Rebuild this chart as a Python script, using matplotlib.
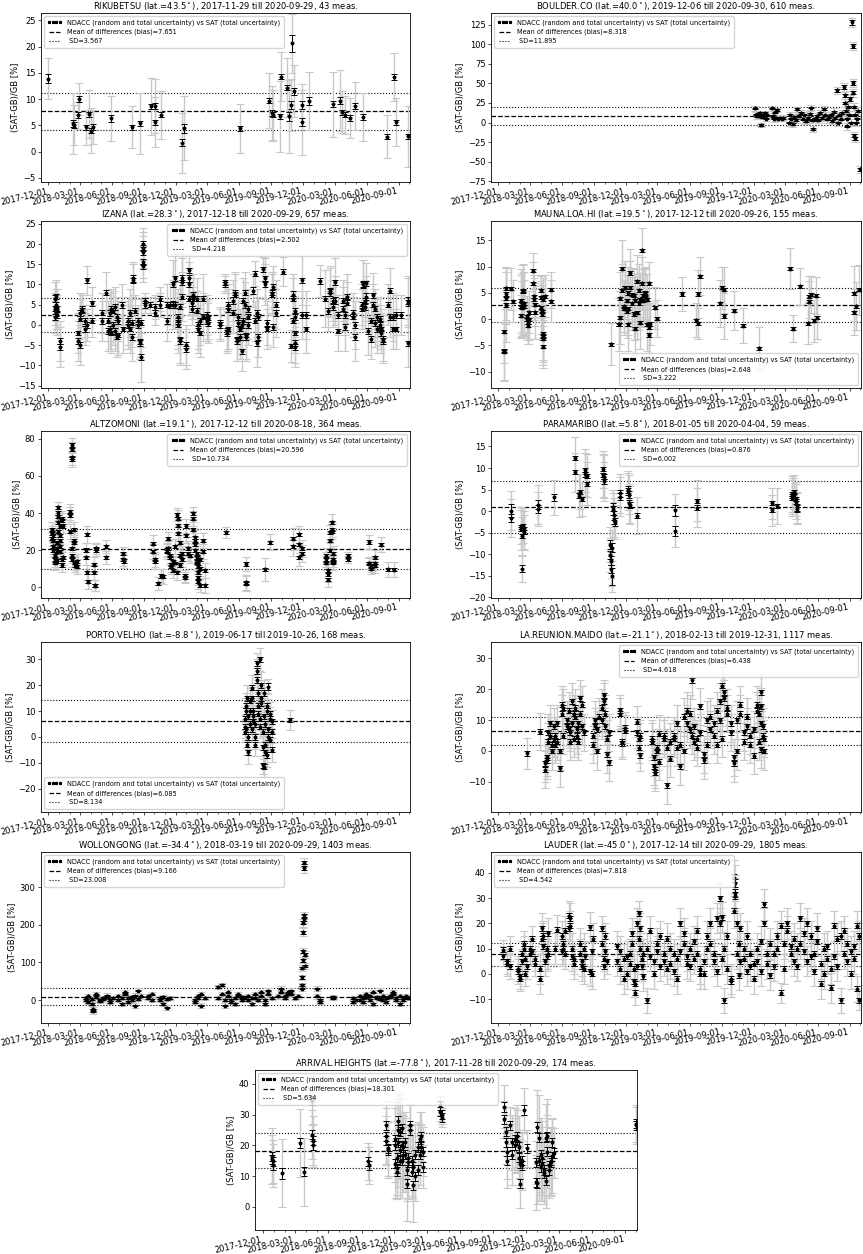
import numpy as np
import matplotlib
matplotlib.use('Agg')  # no display
import matplotlib.pyplot as plt
import matplotlib.dates as mdates
from matplotlib.ticker import MultipleLocator

# dates are stored as days after 2017-12-01
t0 = np.datetime64('2017-12-01')

# station info
stations = ['RIKUBETSU', 'BOULDER.CO', 'IZANA', 'MAUNA.LOA.HI', 'ALTZOMONI', 'PARAMARIBO',
            'PORTO.VELHO', 'LA.REUNION.MAIDO', 'WOLLONGONG', 'LAUDER', 'ARRIVAL.HEIGHTS']
lats = ['43.5', '40.0', '28.3', '19.5', '19.1', '5.8', '-8.8', '-21.1', '-34.4', '-45.0', '-77.8']
first_obs = ['2017-11-29', '2019-12-06', '2017-12-18', '2017-12-12', '2017-12-12', '2018-01-05',
             '2019-06-17', '2018-02-13', '2018-03-19', '2017-12-14', '2017-11-28']
last_obs = ['2020-09-29', '2020-09-30', '2020-09-29', '2020-09-26', '2020-08-18', '2020-04-04',
            '2019-10-26', '2019-12-31', '2020-09-29', '2020-09-29', '2020-09-29']
n_meas = [43, 610, 657, 155, 364, 59, 168, 1117, 1403, 1805, 174]
bias = [7.651, 8.318, 2.502, 2.648, 20.596, 0.876, 6.085, 6.438, 9.166, 7.818, 18.301]
sd = [3.567, 11.895, 4.218, 3.222, 10.734, 6.002, 8.134, 4.618, 23.008, 4.542, 5.634]

# ---------------- RIKUBETSU
riku_day = [-2, 70, 74, 84, 88, 108, 116, 121, 129, 180,
            239, 263, 293, 306, 307, 323, 383, 389, 549, 634,
            641, 643, 664, 666, 685, 689, 695, 698, 704, 726,
            728, 748, 815, 837, 843, 850, 866, 879, 901, 971,
            991, 997, 1031]
riku_val = [13.9, 5.3, 5.0, 6.9, 10.0, 4.6, 7.1, 4.0, 4.7, 6.3,
            4.6, 5.4, 8.6, 8.7, 5.6, 7.0, 1.7, 4.4, 4.4, 9.7,
            7.3, 7.0, 6.7, 14.3, 12.2, 6.7, 8.9, 20.6, 11.5, 5.6,
            8.9, 9.6, 9.0, 9.7, 7.5, 7.0, 6.4, 8.7, 6.6, 2.8,
            14.2, 5.6, 2.9]
riku_tot = [3.9, 5.8, 3.8, 2.6, 3.0, 3.4, 4.6, 4.3, 3.2, 4.2,
            4.0, 5.8, 5.5, 5.2, 4.8, 4.6, 5.7, 6.1, 4.6, 5.3,
            5.2, 4.8, 6.7, 4.6, 5.6, 6.9, 5.0, 5.6, 5.0, 6.2,
            4.0, 5.5, 6.2, 5.8, 4.0, 3.6, 3.8, 4.5, 4.5, 4.1,
            4.6, 4.6, 5.8]
riku_rnd = [0.8, 0.7, 0.6, 0.6, 0.5, 0.5, 0.5, 0.5, 0.5, 0.6,
            0.5, 0.5, 0.5, 0.6, 0.5, 0.5, 0.7, 0.8, 0.4, 0.5,
            0.6, 0.5, 0.5, 0.5, 0.5, 0.8, 0.7, 1.7, 0.7, 0.7,
            0.8, 0.7, 0.6, 0.6, 0.5, 0.5, 0.5, 0.5, 0.5, 0.5,
            0.5, 0.5, 0.5]

# ---------------- BOULDER.CO
bould_day = [735, 737, 740, 742, 745, 748, 750, 753, 756, 759,
             762, 765, 769, 783, 786, 789, 792, 795, 797, 800,
             805, 810, 815, 831, 834, 838, 842, 846, 850, 855,
             860, 865, 870, 875, 880, 885, 890, 893, 897, 901,
             905, 910, 915, 920, 925, 931, 935, 940, 945, 950,
             955, 960, 964, 967, 971, 975, 980, 984, 988, 990,
             992, 994, 996, 998, 1000, 1002, 1005, 1007, 1012, 1013,
             1014, 1015, 1017, 1018, 1019, 1020, 1022, 1025, 1028, 1034]
bould_val = [18, 10, 8, 11, 9, 12, -3, 7, 10, 8,
             12, 5, 9, 18, 8, 5, 13, 6, 16, 5,
             6, 5, 6, 0, 10, 5, -2, 7, 3, 17,
             8, 12, 4, 10, 2, 6, 11, 19, 3, -8,
             5, 8, 3, 12, 6, 17, 9, 4, 7, 10,
             2, 14, 6, 41, 0, 9, 4, 12, 45, 35,
             25, 15, 5, -5, 20, 10, 30, 0, 128, 98,
             51, 38, 20, -17, -20, 10, 0, 5, 15, -60]
bould_tot = [3, 3, 3, 3, 3, 3, 3, 3, 3, 3,
             3, 3, 3, 3, 4, 4, 4, 4, 3, 3,
             3, 3, 3, 4, 4, 4, 4, 4, 4, 3,
             4, 4, 4, 4, 4, 4, 4, 3, 4, 4,
             4, 4, 4, 4, 4, 4, 4, 4, 4, 4,
             4, 4, 4, 5, 4, 4, 4, 4, 6, 5,
             5, 5, 5, 5, 5, 5, 5, 5, 6, 5,
             5, 5, 5, 5, 5, 5, 5, 5, 5, 5]
bould_rnd = [1.0, 0.8, 1.0, 1.2, 0.8, 1.0, 1.0, 0.8, 1.0, 1.0,
             1.0, 0.8, 1.0, 1.2, 1.0, 0.8, 1.0, 1.0, 1.2, 0.8,
             1.0, 0.8, 1.0, 1.0, 1.2, 1.0, 0.8, 1.0, 1.0, 1.2,
             1.0, 1.0, 0.8, 1.0, 1.0, 1.2, 1.0, 1.0, 0.8, 1.5,
             1.0, 1.0, 0.8, 1.0, 1.0, 1.2, 1.0, 0.8, 1.0, 1.0,
             1.0, 1.2, 1.0, 2.5, 1.0, 1.0, 0.8, 1.0, 2.5, 2.0,
             1.5, 1.2, 1.0, 1.0, 1.5, 1.0, 2.0, 1.0, 3.0, 3.0,
             2.5, 2.0, 1.5, 2.0, 2.0, 1.0, 1.0, 1.0, 1.2, 2.0]

# ---------------- IZANA
izana_day = [19, 19, 19, 22, 22, 22, 26, 26, 33, 33,
             86, 86, 91, 91, 91, 96, 96, 105, 105, 112,
             112, 124, 124, 153, 153, 165, 172, 172, 177, 177,
             181, 181, 186, 186, 191, 191, 196, 196, 201, 201,
             210, 215, 229, 229, 234, 234, 239, 239, 244, 244,
             248, 258, 258, 263, 263, 267, 267, 272, 272, 272,
             272, 272, 277, 277, 291, 306, 306, 320, 320, 339,
             339, 349, 358, 358, 363, 363, 372, 372, 372, 377,
             377, 377, 382, 382, 382, 396, 396, 404, 404, 404,
             404, 411, 411, 415, 415, 425, 425, 430, 430, 435,
             435, 444, 444, 454, 454, 458, 458, 492, 492, 506,
             506, 511, 511, 516, 516, 516, 530, 530, 535, 535,
             540, 540, 544, 544, 549, 549, 554, 554, 559, 559,
             563, 563, 568, 568, 573, 573, 573, 587, 592, 592,
             597, 597, 602, 602, 616, 621, 621, 626, 626, 640,
             640, 645, 645, 654, 654, 673, 697, 702, 702, 702,
             707, 707, 707, 707, 707, 726, 726, 740, 740, 778,
             793, 802, 807, 807, 817, 817, 821, 821, 831, 831,
             845, 845, 850, 850, 855, 855, 874, 874, 879, 879,
             898, 898, 902, 902, 907, 907, 912, 912, 917, 926,
             926, 931, 931, 936, 936, 941, 941, 950, 950, 955,
             955, 960, 960, 974, 979, 979, 988, 988, 998, 998,
             1012, 1031, 1031, 1031]
izana_val = [2, 4, 6.5, 3, 5, 7, 2.5, 4, -4, -5.5,
             -2, -4, -5, 1.5, 3, 4, 3.5, -1, 1, 11,
             0, 1, 5.3, 1, 3, 8, -1.5, 1, 3, -1,
             -2, 4, 0, 3.5, -1.5, 4.5, -3, 2, 1, -2.5,
             5, -1, 0, 1, -1, 3, -3, 0.5, 11.5, 11,
             3.5, 0, 1, -4, -4.5, -8, 0.5, 20, 19, 18,
             15.5, 14.5, 6, 5, 5, 3, 4.5, 6.5, 5, 1,
             5, 5, 5, 10, 11.5, 5, 0, 1, 2, -3.5,
             -4, 4.5, 7, 11.5, 10.5, -5, -6, 13.5, 11.5, 10,
             6.5, 4, 5.5, 7.5, 6.5, 6.5, 3.5, 0, -1, -2,
             1, 2, 6.5, 1, 2.5, 0.5, 1.5, 0.5, 0, 10.5,
             10, -2, -1.5, -1, 4, 5, 3, 6, 8, 7.5,
             -4, -3.5, 0.5, 2, -1, -3, 0, -6.5, 1, 6,
             8, 5, -3, -2.5, 4, 0, 2, 8.5, 12.7, 1,
             3, -4.5, 2, -3, 13.8, 11.5, 10, -1, 0.5, 7.5,
             8, 9.5, -0.5, 5, 3, 13.2, -5.2, 7.5, 6.5, 1,
             2, -2, -4.5, -5.5, 3.5, 11, 2.5, -1, 2.5, 10.8,
             6.5, 3.5, 8, 8.5, 4.5, 6, 10.5, 6, 2.5, -1.5,
             6, 4, -0.5, 2.5, 5.5, 7, 3, 2, -3, 0,
             4, 5, 10, 10, 6, 4.5, 10.3, 7, -1.5, 1,
             -3.5, 5, 7.3, 0.5, 4, 2, -1, 1.5, 0, -2,
             -1, -3.5, -4, 5, 8.5, 2, -1, 2, 2.5, -1,
             2.5, -4.5, 5.5, 6]
izana_tot = [4, 4, 4, 4, 4, 4, 5, 5, 5, 5,
             5, 5, 5, 5, 5, 4, 4, 4, 4, 3.5,
             4, 4, 4, 5, 5, 5, 5, 5, 5, 5,
             5, 5, 5, 5, 5, 5, 5, 5, 5, 5,
             5, 6, 6, 6, 6, 6, 6, 6, 4, 4,
             4, 4, 4, 4, 4, 6, 6, 4, 4, 4,
             4, 4, 2, 2, 2, 3, 3, 3, 3, 5,
             5, 5, 6, 6, 6, 6, 7, 7, 7, 6,
             6, 6, 6, 6, 6, 5, 5, 4, 4, 4,
             4, 4, 4, 5, 5, 5, 5, 6, 6, 6,
             6, 6, 6, 5, 5, 5, 5, 4, 4, 2,
             2, 5, 5, 5, 5, 5, 5, 5, 5, 5,
             5, 5.5, 5, 6, 5, 5.5, 6, 5, 5, 5.5,
             5, 5.5, 6, 6, 5, 5, 5.5, 4, 3, 5,
             6, 6, 5, 5, 3, 5, 5, 5, 5.5, 5,
             5, 5, 5, 6, 6, 3.5, 4, 5, 5, 5.5,
             5, 5, 5, 5, 5, 6, 6, 6, 6, 4,
             7, 5, 6, 6, 5, 5, 6, 6, 5, 5,
             5, 5.5, 6, 5, 5, 5.5, 5, 5, 6, 6,
             5, 5, 6, 6, 5, 5.5, 5, 5, 6, 5,
             5, 5, 5.5, 6, 5, 5, 6, 5.5, 5, 5,
             5, 6, 5, 5, 5.5, 5, 5, 6, 5, 5,
             5, 6, 6, 6]
izana_rnd = [0.7, 0.6, 0.8, 0.7, 0.6, 0.7, 0.8, 0.6, 0.7, 0.7,
             0.6, 0.7, 0.8, 0.6, 0.7, 0.7, 0.6, 0.8, 0.7, 0.6,
             0.7, 0.6, 0.7, 0.8, 0.6, 0.7, 0.7, 0.6, 0.8, 0.7,
             0.6, 0.7, 0.8, 0.6, 0.7, 0.7, 0.6, 0.8, 0.7, 0.6,
             0.7, 0.6, 0.7, 0.8, 0.6, 0.7, 0.7, 0.6, 0.8, 0.7,
             0.6, 0.7, 0.8, 0.6, 0.7, 0.7, 0.6, 0.8, 0.7, 0.6,
             0.7, 0.6, 0.7, 0.8, 0.6, 0.7, 0.7, 0.6, 0.8, 0.7,
             0.6, 0.7, 0.8, 0.6, 0.7, 0.7, 0.6, 0.8, 0.7, 0.6,
             0.7, 0.6, 0.7, 0.8, 0.6, 0.7, 0.7, 0.6, 0.8, 0.7,
             0.6, 0.7, 0.8, 0.6, 0.7, 0.7, 0.6, 0.8, 0.7, 0.6,
             0.7, 0.6, 0.7, 0.8, 0.6, 0.7, 0.7, 0.6, 0.8, 0.7,
             0.6, 0.7, 0.8, 0.6, 0.7, 0.7, 0.6, 0.8, 0.7, 0.6,
             0.7, 0.6, 0.7, 0.8, 0.6, 0.7, 0.7, 0.6, 0.8, 0.7,
             0.6, 0.7, 0.8, 0.6, 0.7, 0.7, 0.6, 0.8, 0.7, 0.6,
             0.7, 0.6, 0.7, 0.8, 0.6, 0.7, 0.7, 0.6, 0.8, 0.7,
             0.6, 0.7, 0.8, 0.6, 0.7, 0.7, 0.6, 0.8, 0.7, 0.6,
             0.7, 0.6, 0.7, 0.8, 0.6, 0.7, 0.7, 0.6, 0.8, 0.7,
             0.6, 0.7, 0.8, 0.6, 0.7, 0.7, 0.6, 0.8, 0.7, 0.6,
             0.7, 0.6, 0.7, 0.8, 0.6, 0.7, 0.7, 0.6, 0.8, 0.7,
             0.6, 0.7, 0.8, 0.6, 0.7, 0.7, 0.6, 0.8, 0.7, 0.6,
             0.7, 0.6, 0.7, 0.8, 0.6, 0.7, 0.7, 0.6, 0.8, 0.7,
             0.6, 0.7, 0.8, 0.6, 0.7, 0.7, 0.6, 0.8, 0.7, 0.6,
             0.7, 0.6, 0.7, 0.8]

# ---------------- MAUNA.LOA.HI
mauna_day = [16, 16, 16, 22, 22, 22, 22, 37, 41, 64,
             64, 64, 67, 67, 70, 70, 74, 74, 81, 81,
             84, 84, 87, 87, 100, 100, 103, 103, 105, 105,
             122, 122, 122, 125, 125, 127, 127, 129, 129, 129,
             134, 151, 151, 321, 345, 345, 349, 349, 353, 353,
             358, 358, 363, 363, 368, 368, 372, 372, 372, 377,
             377, 382, 382, 387, 387, 392, 392, 396, 396, 401,
             401, 406, 406, 411, 411, 415, 415, 420, 420, 420,
             425, 425, 430, 430, 430, 435, 449, 454, 524, 566,
             571, 571, 576, 635, 640, 645, 645, 673, 700, 745,
             833, 843, 864, 885, 889, 889, 893, 902, 907, 912,
             1017, 1017, 1022, 1030]
mauna_val = [-2.4, -6, -6.2, 2.7, 4.8, 4, 5.9, 5.8, 3.4, 2.5,
             3.5, 0.7, 2.2, 2.8, 5.3, 5.5, 3, 2.5, 0, 0.5,
             -0.7, -1.2, 1.3, 0, 9.2, 6.8, 4.4, 3.8, 2.8, 1.3,
             5.5, 4.2, 2.2, 1.5, 1, -2.8, -3.2, -3.7, -5.2, 3.8,
             4.4, 5.6, 3.4, -4.8, -1, -1, 0.3, 4, 5.5, 9.6,
             2, 2.5, 6, 6, 3.5, 1.5, -1, 2, 5, 8.8,
             6, 4.7, 3, 1, 4.5, -1.8, 3.6, 1.2, 7.2, 5.5,
             3, 3.8, -0.7, 13.1, 6.8, 3.5, 4.5, 4.8, 5, 4.5,
             3.7, -1, -1.5, -3, 6.8, -0.9, 2.2, 0.1, 4.8, -0.2,
             -0.8, 4.8, 8.2, 3.0, 6, 5.6, 0.6, 1.6, -1.2, -5.5,
             9.6, -1.8, 6.3, -0.8, 3.3, 4.3, 4.7, -0.3, 4.5, 0.3,
             4.9, 1.3, 2.5, 5.6]
mauna_tot = [6, 5.5, 5.5, 7, 5, 5, 4, 4, 4, 6,
             6, 4, 5, 6, 5, 5, 6, 5, 4, 4,
             4, 3.5, 4, 4, 3.4, 4, 4, 4, 4, 5,
             3, 4, 5, 5, 5, 5, 5, 5, 4, 4,
             4, 3.4, 4, 4, 5, 5, 5, 5, 5, 5.4,
             5, 5, 5, 5, 5, 5, 5, 5, 5, 4.5,
             5, 5, 5, 5, 5, 5, 5, 5, 5, 5,
             5, 5, 5, 4.3, 5, 5, 5, 5, 5, 5,
             5, 5, 5, 5, 4, 4, 4, 3.5, 3.2, 3.2,
             3, 4.5, 3.6, 4.4, 4, 4.4, 4.4, 3.7, 3.3, 4,
             3.9, 2.6, 3.5, 4, 4, 4, 3.5, 4, 3.6, 4,
             5.3, 4.4, 4.5, 4.8]
mauna_rnd = [0.3, 0.3, 0.3, 0.3, 0.3, 0.3, 0.3, 0.3, 0.3, 0.3,
             0.3, 0.3, 0.3, 0.3, 0.3, 0.3, 0.3, 0.3, 0.3, 0.3,
             0.3, 0.3, 0.3, 0.3, 0.3, 0.3, 0.3, 0.3, 0.3, 0.3,
             0.3, 0.3, 0.3, 0.3, 0.3, 0.3, 0.3, 0.3, 0.3, 0.3,
             0.3, 0.3, 0.3, 0.3, 0.3, 0.3, 0.3, 0.3, 0.3, 0.3,
             0.3, 0.3, 0.3, 0.3, 0.3, 0.3, 0.3, 0.3, 0.3, 0.3,
             0.3, 0.3, 0.3, 0.3, 0.3, 0.3, 0.3, 0.3, 0.3, 0.3,
             0.3, 0.3, 0.3, 0.3, 0.3, 0.3, 0.3, 0.3, 0.3, 0.3,
             0.3, 0.3, 0.3, 0.3, 0.3, 0.3, 0.3, 0.3, 0.3, 0.3,
             0.3, 0.3, 0.3, 0.3, 0.3, 0.3, 0.3, 0.3, 0.3, 0.3,
             0.3, 0.3, 0.3, 0.3, 0.3, 0.3, 0.3, 0.3, 0.3, 0.3,
             0.3, 0.3, 0.3, 0.3]

# ---------------- ALTZOMONI
altz_day = [10, 10, 10, 14, 14, 14, 14, 19, 19, 19,
            24, 24, 24, 24, 29, 29, 29, 29, 29, 33,
            33, 33, 33, 33, 38, 38, 38, 38, 43, 43,
            62, 62, 62, 67, 67, 67, 67, 67, 67, 67,
            74, 74, 74, 77, 77, 81, 81, 108, 108, 112,
            112, 115, 131, 131, 135, 135, 138, 138, 165, 165,
            213, 213, 217, 301, 301, 306, 306, 315, 322, 328,
            339, 339, 344, 344, 349, 349, 353, 353, 358, 358,
            363, 363, 368, 368, 372, 372, 372, 377, 377, 377,
            382, 382, 392, 392, 396, 396, 401, 401, 406, 415,
            415, 415, 420, 420, 420, 420, 425, 425, 425, 425,
            430, 430, 430, 430, 435, 435, 435, 444, 444, 449,
            449, 508, 566, 566, 566, 621, 635, 702, 702, 719,
            719, 719, 726, 726, 797, 797, 797, 802, 802, 802,
            807, 807, 807, 812, 812, 812, 817, 817, 817, 817,
            860, 860, 920, 920, 920, 925, 925, 936, 936, 936,
            955, 974, 991]
altz_val = [26, 31, 29, 25, 22, 20, 28, 17, 15, 13,
            14, 19, 21, 24, 40, 43, 38, 35, 30, 33,
            28, 25, 22, 19, 15, 12, 36, 37, 33, 16,
            40.5, 39, 30, 21, 17, 15, 76.5, 74.5, 70, 69,
            31, 24, 25, 13, 12, 14, 11, 20, 16, 28.5,
            8, 3, 12, 8, 1, 0.8, 20, 21, 22, 16,
            18, 15, 14, 23.5, 19, 15, 14, 2, 6, 5.5,
            19, 20, 26, 21, 16, 17, 12, 11, 9, 14,
            22, 13, 8, 39, 37, 33, 29, 24, 17, 12,
            15, 18, 5, 6, 28, 33, 18, 21, 17, 40,
            37, 31, 27, 25, 23, 20, 18, 16, 14, 13,
            11, 8, 5, 3, 1, 10, 15, 25, 19, 9,
            1, 29.5, 12.5, 2.5, 1.8, 9.5, 24.3, 26, 22, 28.5,
            16, 23, 21, 18, 17, 15, 13, 9, 7, 4,
            29.5, 25, 20, 35, 30, 31, 18, 14, 13, 15,
            17, 15, 24.3, 13, 12.5, 11, 10, 13, 16, 11.5,
            22.8, 9.5, 9.3]
altz_tot = [4, 4, 4, 4, 4, 4, 4, 4, 4, 4,
            4, 4, 4, 4, 4, 3, 4, 4, 4, 4,
            4, 4, 4, 4, 4, 4, 4, 4, 4, 4,
            4.5, 4, 4, 4, 4, 4, 4, 4, 4, 4,
            4, 4, 4, 4, 4, 4, 4, 4, 4, 4.5,
            4, 4, 4, 4, 3, 3, 3, 3, 3.5, 3.5,
            3.5, 3.5, 3.5, 4.5, 4, 4, 4, 3.5, 4, 4,
            4, 4, 4, 4, 4, 4, 4, 4, 4, 4,
            4, 4, 4, 3.5, 4.5, 4, 4, 4, 4, 4,
            4, 4, 3, 3, 4, 4, 4, 4, 4, 3.5,
            4, 4, 4, 4, 4, 4, 4, 4, 4, 4,
            4, 4, 4, 4, 3.5, 4, 4, 4, 4, 4,
            4, 3, 4, 4, 4, 6, 4.5, 6, 5, 4.5,
            4.5, 4.5, 4.5, 4.5, 4, 4, 4, 4, 4, 4,
            4, 4, 4, 4.5, 4, 4, 4, 4, 4, 4,
            2, 2, 3.8, 3, 3, 3, 3, 4, 4, 4,
            4, 4, 4]
altz_rnd = [0.8, 0.9, 0.8, 0.8, 0.9, 0.8, 0.8, 0.9, 0.8, 0.8,
            0.9, 0.8, 0.8, 0.9, 1.0, 1.0, 0.9, 0.8, 0.8, 0.9,
            0.8, 0.8, 0.9, 0.8, 0.8, 0.9, 0.8, 0.8, 0.9, 0.8,
            1.0, 0.9, 0.8, 0.8, 0.9, 0.8, 1.2, 1.2, 1.0, 1.0,
            0.8, 0.9, 0.8, 0.8, 0.9, 0.8, 0.8, 0.9, 0.8, 0.8,
            0.9, 0.8, 0.8, 0.9, 0.8, 0.8, 0.9, 0.8, 0.8, 0.9,
            0.8, 0.8, 0.9, 0.8, 0.8, 0.9, 0.8, 0.8, 0.9, 0.8,
            0.8, 0.9, 0.8, 0.8, 0.9, 0.8, 0.8, 0.9, 0.8, 0.8,
            0.9, 0.8, 0.8, 0.9, 0.8, 0.8, 0.9, 0.8, 0.8, 0.9,
            0.8, 0.8, 0.9, 0.8, 0.8, 0.9, 0.8, 0.8, 0.9, 0.8,
            0.8, 0.9, 0.8, 0.8, 0.9, 0.8, 0.8, 0.9, 0.8, 0.8,
            0.9, 0.8, 0.8, 0.9, 0.8, 0.8, 0.9, 0.8, 0.8, 0.9,
            0.8, 0.8, 0.9, 0.8, 0.8, 0.9, 0.8, 0.8, 0.9, 0.8,
            0.8, 0.9, 0.8, 0.8, 0.9, 0.8, 0.8, 0.9, 0.8, 0.8,
            0.9, 0.8, 0.8, 0.9, 0.8, 0.8, 0.9, 0.8, 0.8, 0.9,
            0.8, 0.8, 0.9, 0.8, 0.8, 0.9, 0.8, 0.8, 0.9, 0.8,
            0.8, 0.9, 0.8]

# ---------------- PARAMARIBO
param_day = [35, 35, 64, 64, 67, 67, 70, 74, 74, 112,
             112, 160, 220, 220, 230, 234, 239, 249, 249, 253,
             253, 298, 298, 301, 301, 320, 320, 323, 323, 326,
             326, 329, 329, 331, 331, 334, 347, 347, 370, 370,
             374, 374, 377, 396, 506, 506, 568, 568, 783, 783,
             797, 840, 840, 840, 845, 845, 850, 850, 855, 855]
param_val = [0.1, -1.6, -3.7, -4.1, -5.8, -13.4, -3.4, -4.5, -4.8, 1.5,
             0.5, 3.2, 12.3, 9.0, 3.6, 4.5, 2.8, 9.5, 8.5, 8.2,
             6.3, 9.7, 8.3, 8.0, 6.9, -7.8, -10.2, -11.5, -13.5, -15.2,
             -8.5, 0.2, 0.9, -1.0, -2.0, -2.5, 4.1, 3.3, 5.0, 4.6,
             3.8, 1.8, 1.4, -1.1, 0.2, -4.7, 2.4, 0.8, 1.8, 0.2,
             1.2, 4.0, 3.5, 3.0, 4.4, 3.7, 2.8, 2.2, 0.9, 0.5]
param_tot = [4.5, 4.5, 4, 5, 4.5, 3, 4, 4.5, 4, 4.5,
             4, 4, 5, 4.5, 5, 4, 4, 5, 5, 5,
             5, 4.3, 5, 5, 4.5, 4, 4, 4, 4, 3.5,
             4, 4, 4, 4, 4, 4, 4.5, 4.5, 4.3, 4.3,
             4.5, 4.5, 4.5, 4.3, 3.7, 3.6, 4.7, 4.6, 3.6, 3.6,
             4.2, 4.2, 4.2, 4.2, 4, 4, 4, 4, 3.6, 3.6]
param_rnd = [1.5, 1, 0.5, 0.5, 0.5, 0.8, 0.5, 0.8, 0.5, 1,
             1, 0.8, 0.5, 0.5, 0.5, 0.5, 0.5, 0.5, 0.5, 0.5,
             0.5, 0.5, 0.5, 0.5, 0.5, 1, 1, 1, 1, 2,
             1, 1, 1, 1, 1, 1, 0.8, 0.8, 0.8, 0.8,
             0.8, 0.8, 0.8, 0.6, 1.3, 1.2, 0.5, 0.5, 0.5, 0.5,
             0.5, 0.5, 0.5, 0.5, 0.5, 0.5, 0.5, 0.5, 0.8, 0.8]

# ---------------- PORTO.VELHO
porto_day = [563, 563, 563, 566, 566, 566, 570, 570, 573, 573,
             573, 578, 578, 578, 583, 583, 583, 587, 587, 587,
             592, 592, 592, 597, 597, 597, 602, 602, 602, 606,
             606, 606, 611, 611, 611, 616, 616, 616, 618, 618,
             618, 621, 621, 621, 626, 626, 626, 630, 630, 630,
             635, 635, 635, 640, 640, 640, 694]
porto_val = [4, 2, 7, 10, 12, 3, 15, -3, -6, 0,
             8, 5, 10, 14, 19, 15, 3, 8, 6, 10,
             5, 0, -3, 28.5, 25.5, 22, 17, 12, 9, 7,
             4, 30, 20, 15, 13, 2, -4, -11, -11.5, 17,
             8, 5, -3, -6, -7, 12, 10, 0, 3, 19.5,
             9, 7, -1, -5, 6, 2, 6.6]
porto_tot = [4.5, 4, 4.5, 5, 5, 4, 5, 4, 4.5, 4.5,
             4.5, 4, 4.5, 5, 5, 4.5, 4, 4.5, 4.5, 5,
             4, 4.5, 4.5, 4, 4.5, 4.5, 5, 4.5, 4.5, 4.5,
             4.5, 4.5, 5, 4.5, 4.5, 4, 4.5, 3.5, 4, 5,
             4.5, 4.5, 4.5, 4.5, 4.5, 5, 4.5, 4.5, 4.5, 3,
             4.5, 4.5, 4.5, 4.5, 4.5, 4.5, 4]
porto_rnd = [1, 1, 1, 1, 1, 1, 1, 1, 1, 1,
             1, 1, 1, 1, 1, 1, 1, 1, 1, 1,
             1, 1, 1, 1, 1, 1, 1, 1, 1, 1,
             1, 1, 1, 1, 1, 1, 1, 1, 1, 1,
             1, 1, 1, 1, 1, 1, 1, 1, 1, 1.2,
             1, 1, 1, 1, 1, 1, 0.8]

# ---------------- LA.REUNION.MAIDO
reun_day = [81, 119, 134, 134, 138, 138, 143, 143, 148, 148,
            153, 153, 158, 158, 162, 162, 167, 167, 177, 177,
            181, 181, 186, 186, 196, 196, 201, 201, 205, 205,
            210, 210, 215, 215, 220, 220, 224, 224, 229, 229,
            234, 234, 239, 239, 244, 272, 272, 277, 277, 282,
            282, 287, 296, 296, 301, 301, 306, 306, 310, 310,
            315, 315, 347, 347, 353, 353, 362, 362, 396, 396,
            401, 401, 406, 406, 439, 439, 444, 444, 449, 449,
            454, 454, 458, 458, 473, 473, 482, 482, 492, 492,
            501, 501, 511, 511, 520, 520, 530, 530, 540, 540,
            549, 549, 554, 554, 559, 559, 568, 568, 578, 578,
            587, 587, 597, 597, 606, 606, 616, 616, 626, 626,
            635, 635, 640, 640, 645, 645, 654, 654, 664, 664,
            673, 673, 683, 683, 692, 692, 702, 702, 711, 711,
            721, 721, 731, 731, 740, 740, 745, 745, 750, 750,
            752, 752, 757, 757, 759, 759]
reun_val = [-0.7, 6.2, -4, -6, -3, -2, 3, 6, 9, 5,
            2, 0, 8, 4, 2, 5, 3, 9, -5.5, 0,
            15, 12, 14, 5, 8, 10, 13, 7, 3, 6,
            9, 16, 12, 4, 11, 14, 7, 5, 3, 9,
            12, 17, 15, 8, 6, 5, 2, 8, 10, 7,
            0, 11, 10, 14, 18, 16, 12, 8, 4, -1,
            -3.7, 6, 13.2, 12, 3, 2.5, 7.5, 6.5, 9.5, 6,
            4, 1, -1.4, 5, 4, 3, -2, -5, -6, -7,
            0, 1, 5.5, -3.5, 4, 5, 1, -11, -2.5, 3,
            5, 4, 1, 9, 2, -5, 0, 11, 13, 9,
            12, 7, 22.8, 5, 3, 8, 4, 1, 6, 14.5,
            -1, -3, 10, 2, 11, 7, 9, 5, 2, 13,
            16, 10, 4, 21, 19, 17, 14, 12, 9, 6,
            -4, -2, 0, 10, 12, 15, 6, 3, 8, 11,
            5, 2, -1.5, 7, 13, 15, 3, 12, 19, 9,
            0.5, 14.5, 5, 8, 4, 0]
reun_tot = [5, 6, 6, 6, 6, 6, 6, 6, 6, 6,
            6, 6, 6, 6, 6, 6, 6, 6, 6, 6,
            6, 6, 6, 6, 6, 6, 6, 6, 6, 6,
            6, 6, 6, 6, 6, 6, 6, 6, 6, 6,
            6, 6, 6, 6, 6, 6, 6, 6, 6, 6,
            6, 6, 6, 6, 5, 6, 6, 6, 6, 6,
            6, 6, 5, 5, 5, 5, 5, 5, 5, 5,
            5, 5, 5, 5, 6, 6, 6, 6, 6, 6,
            6, 6, 6, 6, 6, 6, 6, 6, 6, 6,
            6, 6, 6, 6, 6, 6, 6, 6, 6, 6,
            6, 6, 6, 6, 6, 6, 6, 6, 6, 6,
            6, 6, 6, 6, 6, 6, 6, 6, 6, 6,
            6, 6, 6, 6, 6, 6, 6, 6, 6, 6,
            6, 6, 6, 6, 6, 6, 6, 6, 6, 6,
            6, 6, 6, 6, 6, 6, 6, 6, 6, 6,
            6, 6, 6, 6, 6, 6]
reun_rnd = [0.8, 0.8, 0.8, 0.8, 0.8, 0.8, 0.8, 0.8, 0.8, 0.8,
            0.8, 0.8, 0.8, 0.8, 0.8, 0.8, 0.8, 0.8, 0.8, 0.8,
            0.8, 0.8, 0.8, 0.8, 0.8, 0.8, 0.8, 0.8, 0.8, 0.8,
            0.8, 0.8, 0.8, 0.8, 0.8, 0.8, 0.8, 0.8, 0.8, 0.8,
            0.8, 0.8, 0.8, 0.8, 0.8, 0.8, 0.8, 0.8, 0.8, 0.8,
            0.8, 0.8, 0.8, 0.8, 0.8, 0.8, 0.8, 0.8, 0.8, 0.8,
            0.8, 0.8, 0.8, 0.8, 0.8, 0.8, 0.8, 0.8, 0.8, 0.8,
            0.8, 0.8, 0.8, 0.8, 0.8, 0.8, 0.8, 0.8, 0.8, 0.8,
            0.8, 0.8, 0.8, 0.8, 0.8, 0.8, 0.8, 0.8, 0.8, 0.8,
            0.8, 0.8, 0.8, 0.8, 0.8, 0.8, 0.8, 0.8, 0.8, 0.8,
            0.8, 0.8, 0.8, 0.8, 0.8, 0.8, 0.8, 0.8, 0.8, 0.8,
            0.8, 0.8, 0.8, 0.8, 0.8, 0.8, 0.8, 0.8, 0.8, 0.8,
            0.8, 0.8, 0.8, 0.8, 0.8, 0.8, 0.8, 0.8, 0.8, 0.8,
            0.8, 0.8, 0.8, 0.8, 0.8, 0.8, 0.8, 0.8, 0.8, 0.8,
            0.8, 0.8, 0.8, 0.8, 0.8, 0.8, 0.8, 0.8, 0.8, 0.8,
            0.8, 0.8, 0.8, 0.8, 0.8, 0.8]

# ---------------- WOLLONGONG
wollo_day = [108, 108, 115, 115, 125, 125, 129, 129, 138, 138,
             148, 148, 158, 158, 167, 167, 177, 177, 186, 201,
             201, 210, 210, 220, 220, 229, 229, 239, 239, 248,
             248, 258, 258, 267, 287, 287, 296, 296, 320, 320,
             329, 329, 339, 339, 349, 420, 420, 430, 430, 439,
             439, 449, 487, 487, 497, 497, 506, 506, 516, 516,
             525, 525, 535, 535, 544, 544, 554, 554, 563, 573,
             573, 583, 583, 592, 592, 602, 611, 611, 621, 621,
             630, 630, 640, 659, 668, 668, 678, 678, 688, 688,
             697, 697, 707, 716, 726, 726, 726, 726, 731, 731,
             731, 731, 733, 733, 733, 733, 735, 735, 769, 769,
             778, 778, 817, 817, 874, 874, 883, 893, 893, 902,
             902, 912, 912, 922, 922, 931, 931, 941, 941, 950,
             950, 960, 960, 969, 969, 979, 979, 988, 988, 998,
             998, 1008, 1008, 1017, 1017, 1026, 1026, 1031]
wollo_val = [0, 5, -5, 10, -10, 3, -30, -25, 15, 8,
             0, -3, 5, 2, 8, 12, -5, 0, 5, 0,
             10, 5, -10, 15, 20, 5, -5, 0, 8, 12,
             -15, 25, 3, 10, 10, 5, 15, 0, 5, 0,
             -10, 8, 3, -20, 5, 0, -5, 10, 5, -15,
             15, 5, 5, 35, 40, 15, 0, -15, 10, 20,
             -5, 0, 5, -10, 10, 15, 8, 0, 5, 0,
             10, 5, -10, 15, 5, 0, 10, 20, 0, -10,
             25, 15, 5, 10, 20, 30, 5, 10, 20, 15,
             25, 15, 5, 10, 30, 40, 60, 85, 105, 130,
             180, 205, 215, 225, 350, 365, 120, 90, 30, 10,
             0, -5, 8, 5, 5, -5, 0, 0, 10, 5,
             -5, 15, 8, 0, 10, 20, -10, 5, 8, 3,
             25, 0, 10, 5, -5, 10, 8, 15, 20, 0,
             5, 10, -10, 5, 0, 8, 10, 5]
wollo_tot = [6, 6, 6, 6, 6, 6, 6, 6, 6, 6,
             6, 6, 6, 6, 6, 6, 6, 6, 6, 6,
             6, 6, 6, 6, 6, 6, 6, 6, 6, 6,
             6, 6, 6, 6, 6, 6, 6, 6, 6, 6,
             6, 6, 6, 6, 6, 6, 6, 6, 6, 6,
             6, 6, 6, 6, 6, 6, 6, 6, 6, 6,
             6, 6, 6, 6, 6, 6, 6, 6, 6, 6,
             6, 6, 6, 6, 6, 6, 6, 6, 6, 6,
             6, 6, 6, 6, 6, 6, 6, 6, 6, 6,
             6, 6, 6, 6, 6, 6, 7, 8, 8, 9,
             10, 10, 10, 10, 12, 12, 9, 8, 6, 6,
             6, 6, 6, 6, 6, 6, 6, 6, 6, 6,
             6, 6, 6, 6, 6, 6, 6, 6, 6, 6,
             6, 6, 6, 6, 6, 6, 6, 6, 6, 6,
             6, 6, 6, 6, 6, 6, 6, 6]
wollo_rnd = [2, 2, 2, 2, 2, 2, 2, 2, 2, 2,
             2, 2, 2, 2, 2, 2, 2, 2, 2, 2,
             2, 2, 2, 2, 2, 2, 2, 2, 2, 2,
             2, 2, 2, 2, 2, 2, 2, 2, 2, 2,
             2, 2, 2, 2, 2, 2, 2, 2, 2, 2,
             2, 2, 2, 2, 2, 2, 2, 2, 2, 2,
             2, 2, 2, 2, 2, 2, 2, 2, 2, 2,
             2, 2, 2, 2, 2, 2, 2, 2, 2, 2,
             2, 2, 2, 2, 2, 2, 2, 2, 2, 2,
             2, 2, 2, 2, 2, 2, 3, 3, 3, 4,
             4, 4, 4, 4, 5, 5, 4, 3, 2, 2,
             2, 2, 2, 2, 2, 2, 2, 2, 2, 2,
             2, 2, 2, 2, 2, 2, 2, 2, 2, 2,
             2, 2, 2, 2, 2, 2, 2, 2, 2, 2,
             2, 2, 2, 2, 2, 2, 2, 2]

# ---------------- LAUDER
laud_day = [14, 14, 24, 24, 33, 33, 57, 57, 62, 62,
            67, 67, 72, 72, 76, 76, 81, 91, 91, 96,
            96, 105, 105, 119, 119, 124, 124, 129, 129, 134,
            138, 138, 143, 143, 162, 167, 181, 181, 186, 186,
            191, 191, 201, 201, 205, 205, 210, 210, 215, 215,
            234, 234, 239, 239, 244, 244, 248, 263, 263, 267,
            267, 272, 296, 296, 301, 301, 306, 306, 310, 339,
            339, 349, 349, 358, 358, 368, 368, 377, 377, 382,
            382, 387, 387, 392, 392, 396, 396, 401, 401, 406,
            406, 411, 411, 415, 415, 425, 425, 435, 435, 444,
            444, 454, 454, 463, 463, 473, 473, 482, 482, 492,
            492, 501, 501, 511, 511, 520, 520, 530, 530, 540,
            540, 549, 549, 559, 559, 568, 568, 578, 578, 587,
            587, 597, 597, 606, 606, 616, 616, 626, 626, 635,
            635, 640, 640, 645, 645, 654, 654, 664, 664, 673,
            673, 676, 676, 676, 683, 683, 688, 688, 692, 692,
            702, 702, 711, 711, 721, 721, 731, 731, 740, 740,
            750, 750, 759, 759, 769, 769, 778, 778, 788, 788,
            797, 797, 807, 807, 817, 817, 826, 826, 836, 836,
            845, 845, 855, 855, 864, 864, 874, 874, 883, 883,
            893, 893, 902, 902, 912, 912, 922, 922, 931, 931,
            941, 941, 950, 950, 960, 960, 969, 969, 979, 979,
            988, 988, 998, 998, 1008, 1008, 1017, 1017, 1026, 1026,
            1031, 1031]
laud_val = [9.5, 7, 5, 4, 10, 3, 2, 1, -1, -2,
            5, 8, 10, 12, 6, 0, 3, 8, 10, 14,
            9, 4, 6, -2, 2, 18, 14, 11, 15, 5,
            10, 7, 16, 8, 10, 17.5, 9, 15, 12, 10,
            8, 17, 18, 23, 22, 19, 7, 10, 6, 4,
            12, 8, 5, 3, 10, 2, 7, 18.5, 1, 0,
            9, 14, 18, 12, 6, 3, 9, 15, 5, 11,
            5, 2, 9, 6, -2, 0, 7, 4, 8, 16,
            12, 2, -3, -7.5, -4, 3, 20, 24, 14, 18,
            10, 6, 3, -1, 8, -10.5, 10, 17, 7, 5,
            0, 12, 9, 3, 15, 8, 5, 2, 14, 10,
            4, 1, 8, 6, -2, 9, 20, 16, 12, 4,
            7, 10, 3, 6, 13, 17, 8, 0, 2, 0,
            5, 10, 15, 20, 12, 8, 5, 1, 22, 30,
            20, 22.5, 6, -10.5, 10, 15, 2, -2, -3, 25,
            38, 36, 32, 31, 20, 8, -0.5, 12, 5, 18,
            10, 6, 1, 15, 8, 3, -2, 4, 10, 5,
            13, 1, 27.5, 20, 8, 4, 12, -0.5, 3, 8,
            15, 10, -7.5, 19, 2, 12, 17, 20, 11, 8,
            5, 14, 10, 3, 22, 12, 16, 9, 5, 20,
            15, 7, 1, 8, 13, 18, 4, -4, 0, 10,
            6, 11, 2, -5.5, 19, 7, 3, 14, -10.5, 15,
            17, 8, 12, 5, 9, 0, 11, 6, -6, 19,
            -10.5, 15]
laud_tot = [4, 4, 5, 5, 5, 5, 5, 5, 5, 5,
            5, 5, 5, 5, 5, 5, 5, 5, 5, 5,
            5, 5, 5, 6, 6, 6, 6, 6, 6, 6,
            6, 6, 6, 6, 6, 6, 6, 6, 6, 6,
            6, 6, 6, 6, 6, 6, 6, 6, 6, 6,
            6, 6, 6, 6, 6, 6, 6, 6, 6, 6,
            6, 6, 5, 5, 5, 5, 5, 5, 5, 6,
            6, 6, 6, 6, 6, 6, 6, 6, 6, 6,
            6, 6, 6, 5, 5, 6, 6, 5, 5, 6,
            6, 6, 6, 6, 6, 5, 6, 6, 6, 6,
            6, 6, 6, 6, 6, 6, 6, 6, 6, 6,
            6, 6, 6, 6, 6, 6, 6, 6, 6, 6,
            6, 6, 6, 6, 6, 6, 6, 6, 6, 6,
            6, 6, 6, 6, 6, 6, 6, 6, 6, 6,
            6, 6, 6, 5, 6, 6, 6, 6, 6, 7,
            7, 7, 7, 7, 6, 6, 6, 6, 6, 6,
            6, 6, 6, 6, 6, 6, 6, 6, 6, 6,
            6, 6, 6, 6, 6, 6, 6, 6, 6, 6,
            6, 6, 4, 6, 6, 6, 6, 6, 6, 6,
            6, 6, 6, 6, 6, 6, 6, 6, 6, 6,
            6, 6, 6, 6, 6, 6, 6, 6, 6, 6,
            6, 6, 6, 6, 6, 6, 6, 6, 5, 6,
            6, 6, 6, 6, 6, 6, 6, 6, 5, 6,
            4, 6]
laud_rnd = [1, 1, 1, 1, 1, 1, 1, 1, 1, 1,
            1, 1, 1, 1, 1, 1, 1, 1, 1, 1,
            1, 1, 1, 1, 1, 1, 1, 1, 1, 1,
            1, 1, 1, 1, 1, 1, 1, 1, 1, 1,
            1, 1, 1, 1, 1, 1, 1, 1, 1, 1,
            1, 1, 1, 1, 1, 1, 1, 1, 1, 1,
            1, 1, 1, 1, 1, 1, 1, 1, 1, 1,
            1, 1, 1, 1, 1, 1, 1, 1, 1, 1,
            1, 1, 1, 1, 1, 1, 1, 1, 1, 1,
            1, 1, 1, 1, 1, 1, 1, 1, 1, 1,
            1, 1, 1, 1, 1, 1, 1, 1, 1, 1,
            1, 1, 1, 1, 1, 1, 1, 1, 1, 1,
            1, 1, 1, 1, 1, 1, 1, 1, 1, 1,
            1, 1, 1, 1, 1, 1, 1, 1, 1, 1,
            1, 1, 1, 1, 1, 1, 1, 1, 1, 1,
            1.5, 1.5, 1.5, 1.5, 1, 1, 1, 1, 1, 1,
            1, 1, 1, 1, 1, 1, 1, 1, 1, 1,
            1, 1, 1, 1, 1, 1, 1, 1, 1, 1,
            1, 1, 1, 1, 1, 1, 1, 1, 1, 1,
            1, 1, 1, 1, 1, 1, 1, 1, 1, 1,
            1, 1, 1, 1, 1, 1, 1, 1, 1, 1,
            1, 1, 1, 1, 1, 1, 1, 1, 1, 1,
            1, 1, 1, 1, 1, 1, 1, 1, 1, 1,
            1, 1]

# ---------------- ARRIVAL.HEIGHTS
arriv_day = [25, 25, 28, 28, 55, 103, 114, 136, 136, 140,
             140, 292, 296, 343, 343, 343, 347, 347, 366, 366,
             366, 371, 371, 371, 375, 375, 375, 380, 380, 380,
             385, 385, 385, 389, 389, 394, 394, 399, 399, 403,
             403, 408, 408, 413, 413, 417, 417, 422, 422, 431,
             431, 436, 436, 440, 440, 445, 445, 491, 491, 496,
             496, 668, 668, 673, 673, 677, 677, 686, 691, 691,
             700, 700, 705, 705, 709, 709, 714, 714, 719, 719,
             723, 733, 756, 756, 760, 760, 765, 765, 770, 770,
             774, 774, 779, 779, 784, 784, 788, 788, 793, 793,
             798, 798, 802, 802, 807, 1033, 1033]
arriv_val = [16.5, 15.5, 14.8, 13.5, 11.0, 20.8, 11.4, 34.5, 23.5, 21.5,
             20, 14.8, 13.5, 26.5, 23, 21.5, 19, 18.5, 22, 20,
             14, 11.5, 12.5, 16, 28, 25, 21, 18.5, 15, 24.5,
             25.5, 20, 15, 17, 19.5, 21, 17, 12, 7.5, 14.5,
             16, 26.5, 25, 15, 11.5, 7, 13, 10, 17, 19.5,
             12, 17, 22, 23, 19.5, 13, 18, 33, 31, 30,
             29, 32.5, 28.5, 24.5, 21, 18, 15, 26.5, 21, 17,
             22, 20, 21.5, 23, 16, 19.5, 7.5, 14, 15, 13.5,
             31.5, 19, 14.5, 8, 7.8, 26, 22.5, 15, 13, 17,
             16, 14, 11, 12, 8.5, 22.5, 23, 18, 12, 13.5,
             15, 14.5, 16.5, 21, 17.5, 26.5, 27]
arriv_tot = [9, 8, 7, 7, 11, 11, 11, 8, 8, 8,
             7, 6, 6, 8, 9, 8, 9, 9, 12, 12,
             11, 9, 10, 12, 9, 10, 12, 12, 12, 12,
             10, 10, 12, 12, 10, 10, 12, 10, 12, 12,
             10, 7, 8, 12, 8, 12, 10, 8, 10, 8,
             6, 10, 9, 8, 7, 7, 8, 3, 3, 3,
             3, 7, 6, 8, 7, 9, 9, 6, 9, 10,
             10, 9, 10, 10, 9, 10, 8, 8, 9, 8,
             7, 6, 7, 9, 7, 12, 14, 13, 11, 12,
             12, 12, 10, 10, 9, 11, 12, 12, 9, 10,
             11, 11, 12, 8, 8, 6, 6]
arriv_rnd = [1.5, 1.5, 1.5, 1.5, 1.8, 1.5, 1.5, 1.5, 1.5, 1.5,
             1.5, 1.5, 1.5, 1.5, 1.5, 1.5, 1.5, 1.5, 1.5, 1.5,
             1.5, 1.5, 1.5, 1.5, 1.5, 1.5, 1.5, 1.5, 1.5, 1.5,
             1.5, 1.5, 1.5, 1.5, 1.5, 1.5, 1.5, 1.5, 1.5, 1.5,
             1.5, 1.5, 1.5, 1.5, 1.5, 1.5, 1.5, 1.5, 1.5, 1.5,
             1.5, 1.5, 1.5, 1.5, 1.5, 1.5, 1.5, 1.5, 1.5, 1.5,
             1.5, 1.5, 1.5, 1.5, 1.5, 1.5, 1.5, 1.5, 1.5, 1.5,
             1.5, 1.5, 1.5, 1.5, 1.5, 1.5, 1.5, 1.5, 1.5, 1.5,
             1.5, 1.5, 1.5, 1.5, 1.5, 1.5, 1.5, 1.5, 1.5, 1.5,
             1.5, 1.5, 1.5, 1.5, 1.5, 1.5, 1.5, 1.5, 1.5, 1.5,
             1.5, 1.5, 1.5, 1.5, 1.5, 1.5, 1.5]

# y ranges and tick steps per panel
ylims = [(-5.8, 26.4), (-76, 140), (-15.6, 25.7), (-13.1, 18.7), (-5.9, 84.3), (-20.2, 18.6),
         (-29, 36.7), (-19.7, 35.2), (-61, 393), (-19.5, 48.3), (-7.5, 44.5)]
ysteps = [5, 25, 5, 5, 20, 5, 10, 10, 100, 10, 10]
legend_locs = ['upper left', 'upper left', 'upper right', 'lower right', 'upper right', 'upper right',
               'lower left', 'upper right', 'upper left', 'upper left', 'upper left']

# axes boxes in pixels: left, top, width, height
boxes = [(41, 13, 369, 169), (491, 13, 370, 169),
         (41, 221, 369, 167), (491, 221, 370, 167),
         (41, 431, 369, 167), (491, 431, 370, 167),
         (41, 642, 369, 170), (491, 642, 370, 170),
         (41, 852, 369, 171), (491, 852, 370, 171),
         (255, 1070, 382, 160)]

data = [(riku_day, riku_val, riku_tot, riku_rnd),
        (bould_day, bould_val, bould_tot, bould_rnd),
        (izana_day, izana_val, izana_tot, izana_rnd),
        (mauna_day, mauna_val, mauna_tot, mauna_rnd),
        (altz_day, altz_val, altz_tot, altz_rnd),
        (param_day, param_val, param_tot, param_rnd),
        (porto_day, porto_val, porto_tot, porto_rnd),
        (reun_day, reun_val, reun_tot, reun_rnd),
        (wollo_day, wollo_val, wollo_tot, wollo_rnd),
        (laud_day, laud_val, laud_tot, laud_rnd),
        (arriv_day, arriv_val, arriv_tot, arriv_rnd)]

W, H = 863, 1254
fig = plt.figure(figsize=(W / 100, H / 100), dpi=100)

for i in range(len(stations)):
    day, val, tot, rnd = data[i]
    x0, y0, w, h = boxes[i]
    ax = fig.add_axes([x0 / W, 1 - (y0 + h) / H, w / W, h / H])
    x = t0 + np.array(day).astype('timedelta64[D]')

    # bias and sd lines, behind the points
    h_mean = ax.axhline(bias[i], color='k', ls='--', lw=0.9, zorder=1.5)
    h_sd = ax.axhline(bias[i] + sd[i], color='k', ls=':', lw=0.8, zorder=1.5)
    ax.axhline(bias[i] - sd[i], color='k', ls=':', lw=0.8, zorder=1.5)

    # total uncertainty (grey) and random uncertainty (black)
    ax.errorbar(x, val, yerr=tot, fmt='none', ecolor='#c8c8c8', elinewidth=1.0,
                capsize=2.8, capthick=0.8, zorder=2)
    eb = ax.errorbar(x, val, yerr=rnd, fmt='*', color='k', ms=2.6, elinewidth=0.7,
                     capsize=2.0, capthick=0.7, zorder=3)

    ax.legend([eb[0], h_mean, h_sd],
              ['NDACC (random and total uncertainty) vs SAT (total uncertainty)',
               'Mean of differences (bias)=%.3f' % bias[i],
               ' SD=%.3f' % sd[i]],
              loc=legend_locs[i], fontsize=4.7, numpoints=4, handlelength=2.2,
              borderpad=0.5, labelspacing=0.45, markerscale=0.8)

    ax.set_title('%s (lat.=%s$^\\circ$), %s till %s, %d meas.'
                 % (stations[i], lats[i], first_obs[i], last_obs[i], n_meas[i]),
                 fontsize=6, pad=3)
    ax.set_ylabel('(SAT-GB)/GB [%]', fontsize=6, labelpad=2)
    ax.set_ylim(*ylims[i])
    ax.yaxis.set_major_locator(MultipleLocator(ysteps[i]))

    ax.set_xlim(t0 - np.timedelta64(21, 'D'), t0 + np.timedelta64(1037, 'D'))
    ax.xaxis.set_major_locator(mdates.MonthLocator(bymonth=[3, 6, 9, 12], bymonthday=1))
    ax.xaxis.set_minor_locator(mdates.MonthLocator())
    ax.xaxis.set_major_formatter(mdates.DateFormatter('%Y-%m-%d'))
    ax.tick_params(labelsize=6, length=2.5, width=0.5, pad=1.5)
    ax.tick_params(axis='x', pad=1)
    ax.tick_params(which='minor', length=1.5, width=0.4)
    for lab in ax.get_xticklabels():
        lab.set_rotation(13)
        lab.set_ha('right')
    for s in ax.spines.values():
        s.set_linewidth(0.6)

plt.savefig('out.png', dpi=100)
